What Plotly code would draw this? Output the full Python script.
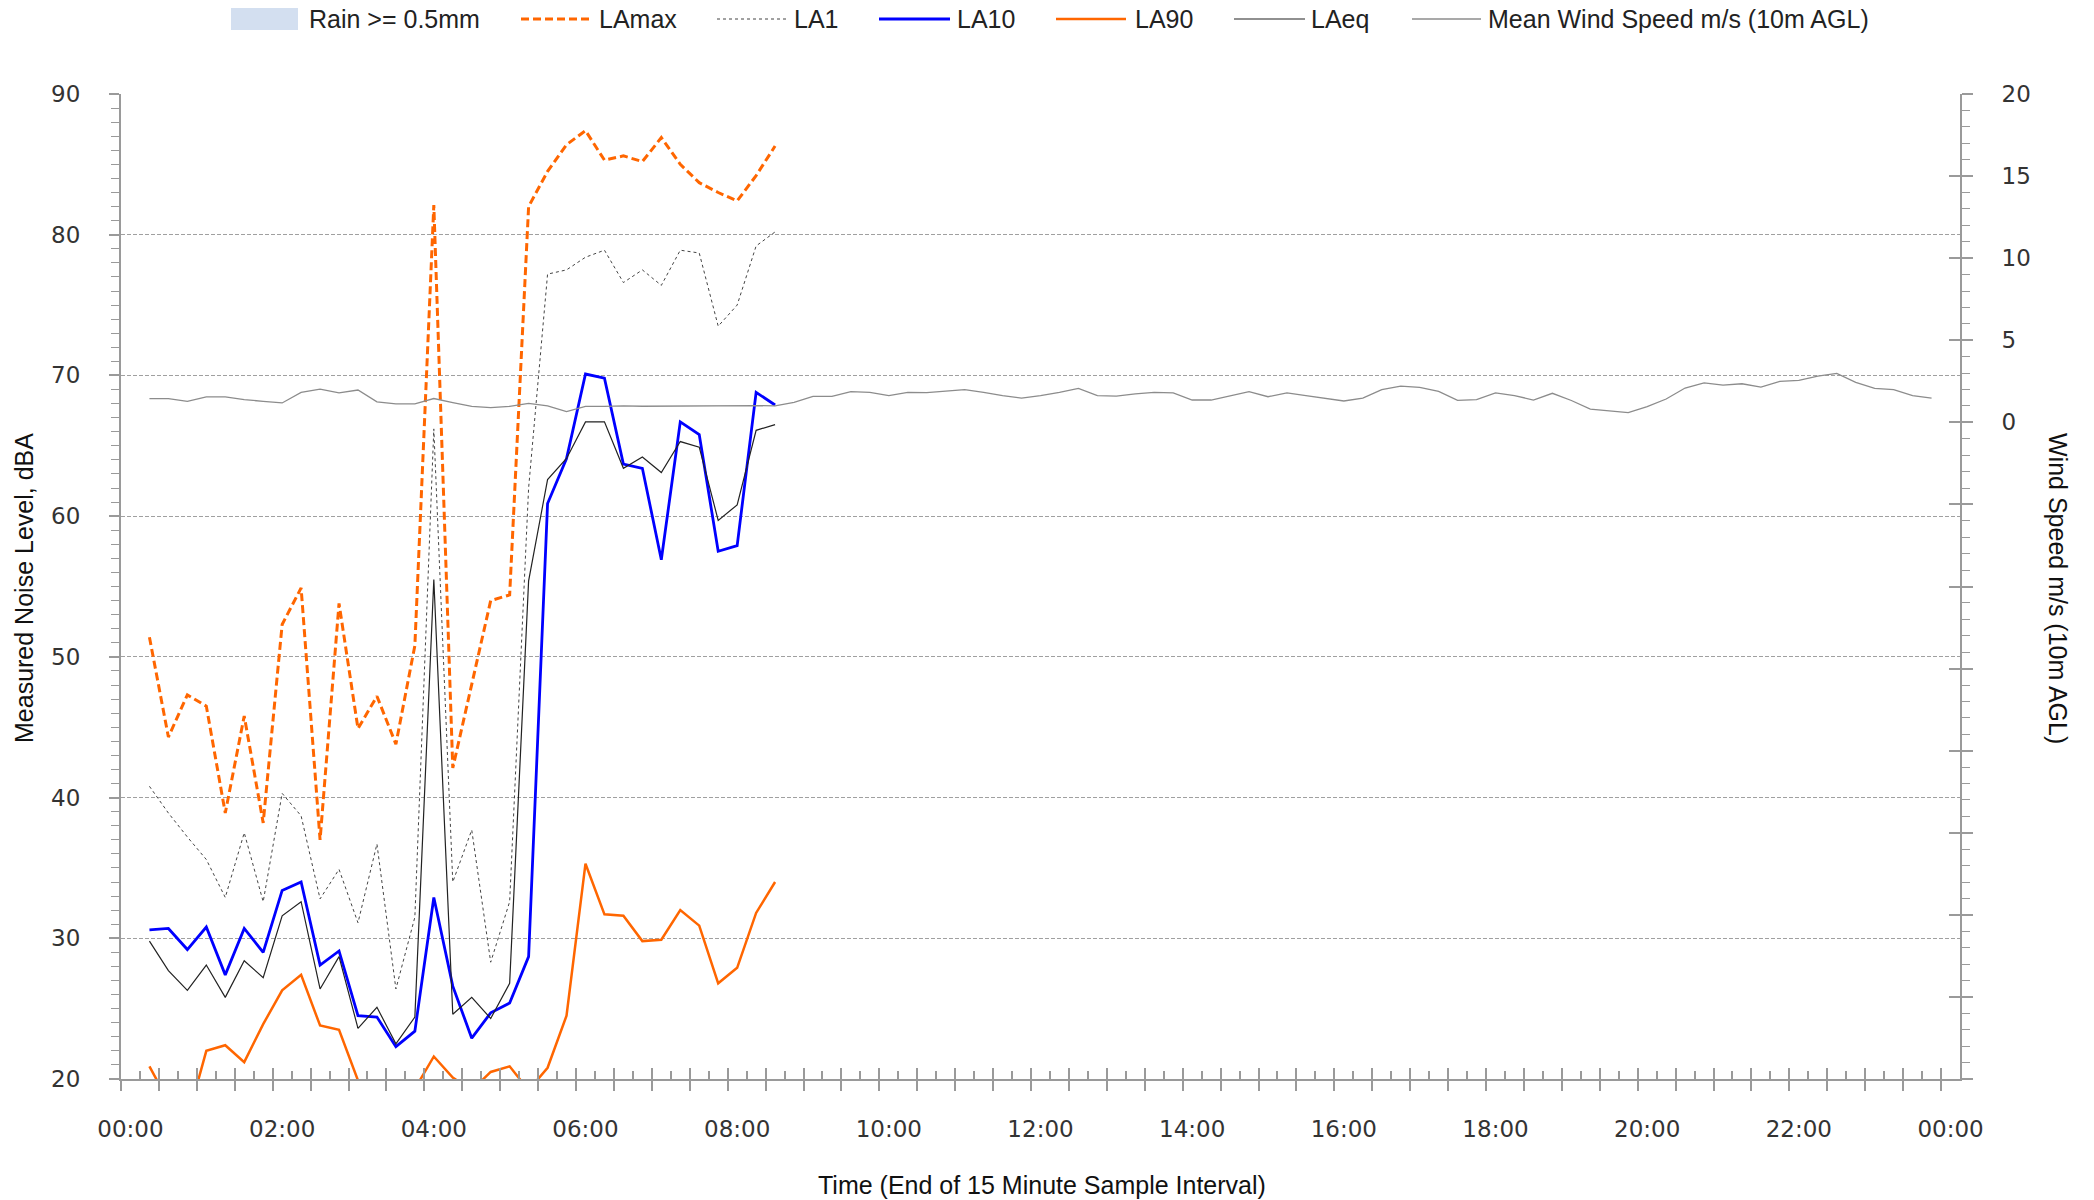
import pandas as pd
import plotly.graph_objects as go

# 15-minute sample end times (hh:mm) for the day
TIMES = [
    "00:15", "00:30", "00:45", "01:00", "01:15", "01:30", "01:45", "02:00",
    "02:15", "02:30", "02:45", "03:00", "03:15", "03:30", "03:45", "04:00",
    "04:15", "04:30", "04:45", "05:00", "05:15", "05:30", "05:45", "06:00",
    "06:15", "06:30", "06:45", "07:00", "07:15", "07:30", "07:45", "08:00",
    "08:15", "08:30", "08:45", "09:00", "09:15", "09:30", "09:45", "10:00",
    "10:15", "10:30", "10:45", "11:00", "11:15", "11:30", "11:45", "12:00",
    "12:15", "12:30", "12:45", "13:00", "13:15", "13:30", "13:45", "14:00",
    "14:15", "14:30", "14:45", "15:00", "15:15", "15:30", "15:45", "16:00",
    "16:15", "16:30", "16:45", "17:00", "17:15", "17:30", "17:45", "18:00",
    "18:15", "18:30", "18:45", "19:00", "19:15", "19:30", "19:45", "20:00",
    "20:15", "20:30", "20:45", "21:00", "21:15", "21:30", "21:45", "22:00",
    "22:15", "22:30", "22:45", "23:00", "23:15", "23:30", "23:45",
]

# Noise levels, dBA (recorded 00:15 - 08:30)
LAMAX = [51.4, 44.3, 47.3, 46.5, 38.9, 45.8, 38.2, 52.3, 54.9, 37.0, 53.8, 44.9,
         47.2, 43.8, 50.8, 82.1, 42.1, 48.0, 54.0, 54.4, 82.0, 84.5, 86.4, 87.4,
         85.3, 85.6, 85.2, 86.9, 85.0, 83.7, 83.0, 82.4, 84.2, 86.3]
LA1 = [40.8, 38.9, 37.2, 35.6, 32.9, 37.5, 32.6, 40.3, 38.7, 32.8, 34.9, 31.1,
       36.7, 26.4, 31.5, 66.2, 34.0, 37.7, 28.3, 32.6, 62.0, 77.2, 77.5, 78.4,
       78.9, 76.6, 77.5, 76.4, 78.9, 78.7, 73.5, 75.0, 79.2, 80.2]
LA10 = [30.6, 30.7, 29.2, 30.8, 27.4, 30.7, 29.0, 33.4, 34.0, 28.1, 29.1, 24.5,
        24.4, 22.3, 23.4, 32.9, 26.6, 22.9, 24.7, 25.4, 28.7, 60.9, 64.1, 70.1,
        69.8, 63.7, 63.4, 56.9, 66.7, 65.8, 57.5, 57.9, 68.8, 67.9]
LA90 = [20.9, 18.4, 17.1, 22.0, 22.4, 21.2, 23.9, 26.3, 27.4, 23.8, 23.5, 19.9,
        18.0, 17.5, 19.3, 21.6, 20.1, 19.2, 20.5, 20.9, 19.2, 20.8, 24.5, 35.3,
        31.7, 31.6, 29.8, 29.9, 32.0, 30.9, 26.8, 27.9, 31.8, 34.0]
LAEQ = [29.8, 27.7, 26.3, 28.1, 25.8, 28.4, 27.2, 31.6, 32.6, 26.4, 28.7, 23.6,
        25.1, 22.5, 24.4, 55.5, 24.6, 25.8, 24.3, 26.8, 55.4, 62.6, 64.1, 66.7,
        66.7, 63.4, 64.2, 63.1, 65.3, 64.9, 59.7, 60.8, 66.1, 66.5]

# Mean wind speed, m/s at 10 m AGL (00:15 - 23:45)
WIND = [1.45, 1.45, 1.28, 1.55, 1.55, 1.38, 1.28, 1.18, 1.82, 2.02, 1.80, 1.97,
        1.25, 1.13, 1.13, 1.45, 1.20, 0.97, 0.89, 0.97, 1.15, 1.00, 0.65, 0.97,
        0.97, 1.00, 0.98, 0.99, 1.00, 0.99, 0.98, 0.99, 1.02, 1.00, 1.22, 1.58,
        1.58, 1.87, 1.83, 1.63, 1.83, 1.81, 1.89, 1.99, 1.83, 1.63, 1.48, 1.63,
        1.83, 2.07, 1.63, 1.60, 1.73, 1.83, 1.79, 1.36, 1.36, 1.63, 1.87, 1.56,
        1.79, 1.63, 1.48, 1.30, 1.48, 1.99, 2.21, 2.13, 1.89, 1.34, 1.38, 1.79,
        1.63, 1.36, 1.77, 1.33, 0.81, 0.69, 0.59, 0.96, 1.42, 2.09, 2.40, 2.27,
        2.35, 2.15, 2.50, 2.56, 2.82, 2.98, 2.43, 2.07, 1.99, 1.63, 1.48]

# Hourly axis labels
X_LABELS = ["00:00", "02:00", "04:00", "06:00", "08:00", "10:00", "12:00",
            "14:00", "16:00", "18:00", "20:00", "22:00", "00:00"]
Y_LEFT_TICKS = [20, 30, 40, 50, 60, 70, 80, 90]
Y_RIGHT_TICKS = [-40, -35, -30, -25, -20, -15, -10, -5, 0, 5, 10, 15, 20]

DAY = "2024-01-01"
NEXT_DAY = "2024-01-02"


def stamp(hhmm):
    return f"{DAY} {hhmm}"


x_all = [stamp(t) for t in TIMES]
x_noise = x_all[:len(LAMAX)]
label_vals = [stamp(t) for t in X_LABELS[:-1]] + [f"{NEXT_DAY} 00:00"]

# tick marks sit on the 15-minute interval boundaries
bounds = pd.date_range(f"{DAY} 00:00", periods=98, freq="15min") - pd.Timedelta(minutes=7.5)
fmt = "%Y-%m-%d %H:%M:%S"
long_ticks = [b.strftime(fmt) for b in bounds[::2]]
short_ticks = [b.strftime(fmt) for b in bounds[1::2]]
x_range = [bounds[0].strftime(fmt), bounds[-1].strftime(fmt)]

ORANGE = "#FF6600"
AXIS_GREY = "#9a9a9a"
TICK_FONT = dict(family="DejaVu Sans", size=23, color="#333333")
TEXT_FONT = "Liberation Sans, Arial"

# page geometry of the plotting area (pixels)
W, H = 2094, 1200
ML, MR, MT, MB = 121, 134, 94, 121
PW, PH = W - ML - MR, H - MT - MB


def px(x):
    return (x - ML) / PW


def py(y):
    return (H - MB - y) / PH


# series styles, shared by the plot and the key above it
STYLES = {
    "LAmax": dict(color=ORANGE, width=3, dash="8px,4px"),
    "LA1": dict(color="#444444", width=1, dash="dot"),
    "LA10": dict(color="#0000FF", width=2.8),
    "LA90": dict(color=ORANGE, width=2.5),
    "LAeq": dict(color="#222222", width=1.2),
    "Mean Wind Speed m/s (10m AGL)": dict(color="#8c8c8c", width=1.3),
}

fig = go.Figure()

fig.add_trace(go.Bar(x=[None], y=[None], name="Rain >= 0.5mm",
                     marker=dict(color="#D3DFF0", line=dict(width=0))))
fig.add_trace(go.Scatter(x=x_noise, y=LAMAX, name="LAmax", mode="lines",
                         line=STYLES["LAmax"]))
fig.add_trace(go.Scatter(x=x_noise, y=LA1, name="LA1", mode="lines",
                         line=STYLES["LA1"]))
fig.add_trace(go.Scatter(x=x_noise, y=LA10, name="LA10", mode="lines",
                         line=STYLES["LA10"]))
fig.add_trace(go.Scatter(x=x_noise, y=LA90, name="LA90", mode="lines",
                         line=STYLES["LA90"]))
fig.add_trace(go.Scatter(x=x_noise, y=LAEQ, name="LAeq", mode="lines",
                         line=STYLES["LAeq"]))
fig.add_trace(go.Scatter(x=x_all, y=WIND, name="Mean Wind Speed m/s (10m AGL)",
                         mode="lines", yaxis="y2",
                         line=STYLES["Mean Wind Speed m/s (10m AGL)"]))

# carriers for the tick-only overlay axes
fig.add_trace(go.Scatter(x=[None], y=[None], xaxis="x2", showlegend=False, hoverinfo="skip"))
fig.add_trace(go.Scatter(x=[None], y=[None], xaxis="x3", showlegend=False, hoverinfo="skip"))
fig.add_trace(go.Scatter(x=[None], y=[None], yaxis="y3", showlegend=False, hoverinfo="skip"))

# key across the top: (name, symbol start px, symbol end px, text start px)
KEY = [
    ("Rain >= 0.5mm", 231, 298, 307),
    ("LAmax", 521, 592, 597),
    ("LA1", 717, 788, 792),
    ("LA10", 879, 950, 955),
    ("LA90", 1056, 1126, 1133),
    ("LAeq", 1234, 1305, 1309),
    ("Mean Wind Speed m/s (10m AGL)", 1412, 1481, 1486),
]
KEY_Y = 19
shapes = []
annotations = []
for name, x0, x1, xt in KEY:
    if name in STYLES:
        shapes.append(dict(type="line", xref="paper", yref="paper",
                           x0=px(x0), x1=px(x1), y0=py(KEY_Y), y1=py(KEY_Y),
                           line=STYLES[name]))
    else:
        shapes.append(dict(type="rect", xref="paper", yref="paper",
                           x0=px(x0), x1=px(x1), y0=py(KEY_Y - 11), y1=py(KEY_Y + 11),
                           fillcolor="#D3DFF0", line=dict(width=0)))
    annotations.append(dict(text=name, xref="paper", yref="paper", x=px(xt), y=py(KEY_Y),
                            xanchor="left", yanchor="middle", showarrow=False,
                            font=dict(family=TEXT_FONT, size=25, color="#222222")))

annotations += [
    dict(text="Time (End of 15 Minute Sample Interval)", xref="paper", yref="paper",
         x=px(1042), y=py(1185), xanchor="center", yanchor="middle", showarrow=False,
         font=dict(family=TEXT_FONT, size=25, color="#111111")),
    dict(text="Measured Noise Level, dBA", xref="paper", yref="paper",
         x=px(24), y=py(588), xanchor="center", yanchor="middle", showarrow=False,
         textangle=-90, font=dict(family=TEXT_FONT, size=25, color="#111111")),
    dict(text="Wind Speed m/s (10m AGL)", xref="paper", yref="paper",
         x=px(2058), y=py(588), xanchor="center", yanchor="middle", showarrow=False,
         textangle=90, font=dict(family=TEXT_FONT, size=25, color="#111111")),
]

right_text = [str(v) if v >= 0 else "" for v in Y_RIGHT_TICKS]

fig.update_layout(
    width=W, height=H,
    paper_bgcolor="white", plot_bgcolor="white",
    margin=dict(l=ML, r=MR, t=MT, b=MB, autoexpand=False),
    showlegend=False,
    xaxis=dict(type="date", range=x_range, tickmode="array", tickvals=label_vals,
               ticktext=X_LABELS, ticks="", showgrid=False, zeroline=False,
               showline=True, linecolor=AXIS_GREY, linewidth=2,
               tickfont=TICK_FONT, ticklabelstandoff=28),
    xaxis2=dict(type="date", range=x_range, overlaying="x", anchor="y", side="bottom",
                tickmode="array", tickvals=long_ticks, ticks="inside", ticklen=11,
                tickcolor=AXIS_GREY, tickwidth=1.5, showticklabels=False, showgrid=False,
                zeroline=False, showline=False,
                minor=dict(tickmode="array", tickvals=short_ticks, ticks="inside",
                           ticklen=8, tickcolor=AXIS_GREY, tickwidth=1.5, showgrid=False)),
    xaxis3=dict(type="date", range=x_range, overlaying="x", anchor="y", side="bottom",
                tickmode="array", tickvals=long_ticks, ticks="outside", ticklen=11,
                tickcolor=AXIS_GREY, tickwidth=1.5, showticklabels=False, showgrid=False,
                zeroline=False, showline=False),
    yaxis=dict(range=[20, 90], tickmode="array", tickvals=Y_LEFT_TICKS,
               ticks="outside", ticklen=10, tickcolor=AXIS_GREY, tickwidth=1.5,
               showgrid=True, gridcolor="#a0a0a0", griddash="4px,2px", gridwidth=1,
               zeroline=False, showline=True, linecolor=AXIS_GREY, linewidth=2,
               tickfont=TICK_FONT, ticklabelstandoff=24,
               minor=dict(dtick=1, ticks="outside", ticklen=8, tickcolor=AXIS_GREY,
                          tickwidth=1.2, showgrid=False)),
    yaxis2=dict(range=[-40, 20], overlaying="y", side="right", anchor="x",
                tickmode="array", tickvals=Y_RIGHT_TICKS, ticktext=right_text,
                ticks="outside", ticklen=11, tickcolor=AXIS_GREY, tickwidth=1.5,
                showgrid=False, zeroline=False, showline=True, linecolor=AXIS_GREY,
                linewidth=2, tickfont=TICK_FONT, ticklabelstandoff=24,
                minor=dict(dtick=1, ticks="outside", ticklen=8, tickcolor=AXIS_GREY,
                           tickwidth=1.2, showgrid=False)),
    yaxis3=dict(range=[-40, 20], overlaying="y", side="right", anchor="x",
                tickmode="array", tickvals=Y_RIGHT_TICKS, ticks="inside", ticklen=11,
                tickcolor=AXIS_GREY, tickwidth=1.5, showticklabels=False,
                showgrid=False, zeroline=False, showline=False),
    shapes=shapes,
    annotations=annotations,
)

fig.write_html("out.html")
